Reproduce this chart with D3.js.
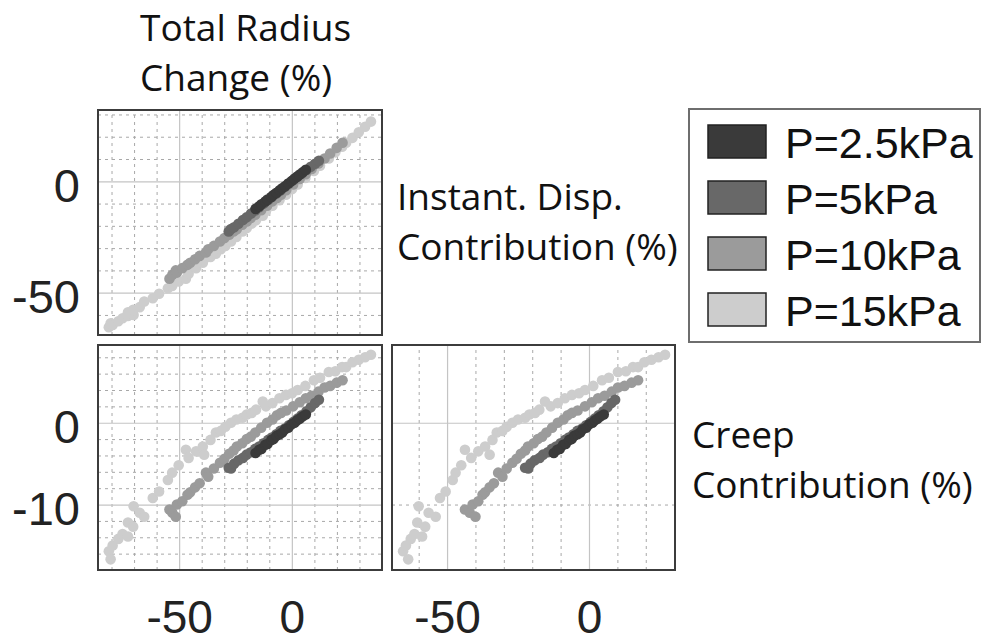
<!DOCTYPE html>
<html>
<head>
<meta charset="utf-8">
<script src="https://cdn.jsdelivr.net/npm/d3@7"></script>
<style>
  body { margin: 0; background: #fff; }
  svg { display: block; }
</style>
</head>
<body>
<div id="chart"></div>
<script>
// pressure groups and legend labels
var pressures = ["P=2.5kPa", "P=5kPa", "P=10kPa", "P=15kPa"];
var shades = ["#3a3a3a", "#686868", "#9b9b9b", "#cdcdcd"];

// tick labels
var xTickLabels = [-50, 0];
var yTickLabelsTop = [-50, 0];
var yTickLabelsBottom = [-10, 0];

// samples per pressure: instant disp., creep and total radius change (%)
var instant25 = [-12.4, -11.2, -10.3, -9.1, -8.2, -7.0, -6.1, -5.2, -4.0, -3.1, -2.2, -1.0, 0.1, 1.2, 2.1, 3.0, 4.1, 5.2];
var creep25   = [-3.7, -3.3, -3.2, -2.7, -2.6, -2.1, -2.0, -1.6, -1.4, -1.2, -0.8, -0.6, -0.2, 0.0, 0.3, 0.5, 0.8, 1.0];
var total25   = [-16.1, -14.5, -13.5, -11.8, -10.8, -9.1, -8.1, -6.8, -5.4, -4.3, -3.0, -1.6, -0.1, 1.2, 2.4, 3.5, 4.9, 6.2];

var instant5 = [-22.5, -21.4, -20.6, -19.1, -17.4, -16.2, -14.5, -13.1, -11.6, -10.0, -8.4, -7.1, -5.5, -4.1, -2.4, -1.0, 0.6, 2.0, 3.4, 5.1, 6.5, 7.9, 9.2];
var creep5   = [-5.5, -5.6, -5.0, -4.6, -4.3, -3.9, -3.6, -3.2, -2.9, -2.5, -2.1, -1.8, -1.4, -1.0, -0.7, -0.3, 0.1, 0.5, 0.9, 1.4, 1.9, 2.4, 2.8];
var total5   = [-28.0, -27.0, -25.6, -23.7, -21.7, -20.1, -18.1, -16.3, -14.5, -12.5, -10.5, -8.9, -6.9, -5.1, -3.1, -1.3, 0.7, 2.5, 4.3, 6.5, 8.4, 10.3, 12.0];

var instant10 = [-43.7, -42.0, -40.0, -41.0, -39.0, -37.5, -36.6, -35.0, -33.5, -32.0, -30.5, -29.0, -27.0, -25.5, -24.0, -22.5, -21.5, -19.5, -18.0, -16.5, -15.0, -13.0, -11.0, -9.0, -7.5, -6.0, -4.0, -1.4, 1.0, 3.2, 5.5, 8.0, 10.2, 12.5, 15.0, 17.3];
var creep10   = [-10.6, -11.0, -11.5, -10.0, -9.6, -8.8, -8.5, -7.9, -7.4, -6.1, -6.6, -5.6, -4.9, -4.4, -3.8, -3.4, -2.9, -2.5, -2.0, -1.7, -1.2, -0.6, 0.0, 0.4, 0.9, 1.2, 1.5, 2.0, 2.5, 3.0, 3.3, 3.8, 4.3, 4.5, 4.9, 5.2];
var total10   = [-54.3, -53.0, -51.5, -51.0, -48.6, -46.3, -45.1, -42.9, -40.9, -38.1, -37.1, -34.6, -31.9, -29.9, -27.8, -25.9, -24.4, -22.0, -20.0, -18.2, -16.2, -13.6, -11.0, -8.6, -6.6, -4.8, -2.5, 0.6, 3.5, 6.2, 8.8, 11.8, 14.5, 17.0, 19.9, 22.5];

var instant15 = [-65.5, -63.7, -64.5, -62.8, -61.5, -60.5, -58.8, -60.0, -57.7, -56.5, -54.0, -52.5, -50.5, -48.0, -47.0, -45.0, -43.7, -41.5, -39.0, -36.6, -35.0, -34.0, -32.5, -30.5, -29.0, -27.0, -25.0, -22.5, -21.0, -19.0, -17.5, -15.5, -13.5, -11.0, -8.5, -6.0, -3.5, -1.4, 1.5, 4.6, 7.0, 10.2, 13.0, 15.5, 17.3, 19.5, 22.0, 24.5, 26.8];
var creep15   = [-15.7, -16.7, -15.0, -14.2, -13.6, -12.2, -13.9, -10.2, -12.7, -11.0, -11.5, -9.2, -8.4, -7.0, -6.1, -5.2, -3.3, -4.3, -3.5, -2.9, -3.9, -2.1, -1.2, -1.0, -0.5, 0.0, 0.4, 0.6, 1.0, 1.2, 1.6, 2.6, 2.0, 2.4, 3.0, 3.4, 3.6, 4.0, 4.5, 5.2, 5.5, 6.2, 6.3, 6.8, 6.8, 7.4, 7.7, 8.0, 8.3];
var total15   = [-81.2, -80.4, -79.5, -77.0, -75.1, -72.7, -72.7, -70.2, -70.4, -67.5, -65.5, -61.7, -58.9, -55.0, -53.1, -50.2, -47.0, -45.8, -42.5, -39.5, -38.9, -36.1, -33.7, -31.5, -29.5, -27.0, -24.6, -21.9, -20.0, -17.8, -15.9, -12.9, -11.5, -8.6, -5.5, -2.6, 0.1, 2.6, 6.0, 9.8, 12.5, 16.4, 19.3, 22.3, 24.1, 26.9, 29.7, 32.5, 35.1];

var series = [
  {name: pressures[0], color: shades[0], instant: instant25, creep: creep25, total: total25},
  {name: pressures[1], color: shades[1], instant: instant5, creep: creep5, total: total5},
  {name: pressures[2], color: shades[2], instant: instant10, creep: creep10, total: total10},
  {name: pressures[3], color: shades[3], instant: instant15, creep: creep15, total: total15}
];

var tickFont = "'Liberation Sans', Arial, sans-serif";
var titleFont = "'Open Sans', Lato, sans-serif";
// plain hyphen for negatives, like the original figure
var plain = function(d) { return String(d); };

var svg = d3.select("#chart")
  .append("svg")
    .attr("width", 982)
    .attr("height", 644);

var notMajor = function(major) { return function(v) { return major.indexOf(v) < 0; }; };

// the three scatter panels
var panels = [
  {xKey: "total", yKey: "instant", left: 98, top: 110, w: 284, h: 225,
   xDomain: [-86, 40], yDomain: [-69, 32],
   xMajor: [-50, 0], yMajor: [-50, 0],
   xMinor: d3.range(-80, 40, 10), yMinor: d3.range(-60, 40, 10),
   xLabels: null, yLabels: yTickLabelsTop},
  {xKey: "total", yKey: "creep", left: 98, top: 345, w: 284, h: 225,
   xDomain: [-86, 40], yDomain: [-18, 9.5],
   xMajor: [-50, 0], yMajor: [-10, 0],
   xMinor: d3.range(-80, 40, 10), yMinor: d3.range(-16, 10, 2),
   xLabels: xTickLabels, yLabels: yTickLabelsBottom},
  {xKey: "instant", yKey: "creep", left: 392, top: 345, w: 283, h: 225,
   xDomain: [-69.4, 30.3], yDomain: [-18, 9.5],
   xMajor: [-50, 0], yMajor: [0],
   xMinor: d3.range(-60, 30, 10), yMinor: [-10],
   xLabels: xTickLabels, yLabels: null}
];

panels.forEach(function(p, pi) {
  var x = d3.scaleLinear().domain(p.xDomain).range([0, p.w]);
  var y = d3.scaleLinear().domain(p.yDomain).range([p.h, 0]);

  var g = svg.append("g")
    .attr("transform", "translate(" + p.left + "," + p.top + ")");

  g.append("clipPath").attr("id", "clip" + pi)
    .append("rect").attr("width", p.w).attr("height", p.h);

  // minor dashed grid
  g.append("g").attr("class", "grid minor")
    .attr("transform", "translate(0," + p.h + ")")
    .call(d3.axisBottom(x).tickValues(p.xMinor.filter(notMajor(p.xMajor))).tickSize(-p.h).tickFormat(""));
  g.append("g").attr("class", "grid minor")
    .call(d3.axisLeft(y).tickValues(p.yMinor.filter(notMajor(p.yMajor))).tickSize(-p.w).tickFormat(""));
  // major solid grid
  g.append("g").attr("class", "grid major")
    .attr("transform", "translate(0," + p.h + ")")
    .call(d3.axisBottom(x).tickValues(p.xMajor).tickSize(-p.h).tickFormat(""));
  g.append("g").attr("class", "grid major")
    .call(d3.axisLeft(y).tickValues(p.yMajor).tickSize(-p.w).tickFormat(""));

  g.selectAll(".grid .domain").remove();
  g.selectAll(".grid.minor line")
    .attr("stroke", "#a8a8a8").attr("stroke-width", 1).attr("stroke-dasharray", "3,4");
  g.selectAll(".grid.major line")
    .attr("stroke", "#c4c4c4").attr("stroke-width", 1.2);

  // points, lightest group at the back
  var pts = g.append("g").attr("clip-path", "url(#clip" + pi + ")");
  series.slice().reverse().forEach(function(s) {
    var data = s.total.map(function(d, i) { return {x: s[p.xKey][i], y: s[p.yKey][i]}; });
    pts.append("g")
      .attr("fill", s.color)
      .selectAll("circle")
      .data(data)
      .enter().append("circle")
        .attr("cx", function(d) { return x(d.x); })
        .attr("cy", function(d) { return y(d.y); })
        .attr("r", 5.3);
  });

  // frame
  g.append("rect")
    .attr("width", p.w).attr("height", p.h)
    .attr("fill", "none").attr("stroke", "#3c3c3c").attr("stroke-width", 2);

  // tick labels
  if (p.yLabels) {
    var ay = g.append("g")
      .call(d3.axisLeft(y).tickValues(p.yLabels).tickFormat(plain).tickSize(0).tickPadding(18));
    ay.select(".domain").remove();
    ay.selectAll("text")
      .attr("dy", "0.43em")
      .attr("font-family", tickFont).attr("font-size", 47).attr("fill", "#222");
  }
  if (p.xLabels) {
    var ax = g.append("g")
      .attr("transform", "translate(0," + p.h + ")")
      .call(d3.axisBottom(x).tickValues(p.xLabels).tickFormat(plain).tickSize(0).tickPadding(30));
    ax.select(".domain").remove();
    ax.selectAll("text")
      .attr("font-family", tickFont).attr("font-size", 46).attr("fill", "#222");
  }
});

// variable titles
var titles = [
  {lines: ["Total Radius", "Change (%)"], x: 140, y: 41},
  {lines: ["Instant. Disp.", "Contribution (%)"], x: 397, y: 210},
  {lines: ["Creep", "Contribution (%)"], x: 692, y: 448}
];
titles.forEach(function(t) {
  var txt = svg.append("text")
    .attr("x", t.x).attr("y", t.y)
    .attr("font-family", titleFont).attr("font-size", 37).attr("fill", "#111");
  t.lines.forEach(function(line, i) {
    txt.append("tspan").attr("x", t.x).attr("dy", i === 0 ? 0 : 50).text(line);
  });
});

// legend
var legend = svg.append("g").attr("transform", "translate(689,109)");
legend.append("rect")
  .attr("width", 291).attr("height", 233)
  .attr("fill", "#fff").attr("stroke", "#6e6e6e").attr("stroke-width", 2);
var rows = legend.selectAll(".row")
  .data(series)
  .enter().append("g")
    .attr("class", "row")
    .attr("transform", function(d, i) { return "translate(0," + (16 + i * 56) + ")"; });
rows.append("rect")
  .attr("x", 19).attr("width", 58).attr("height", 33)
  .attr("fill", function(d) { return d.color; })
  .attr("stroke", "#222").attr("stroke-width", 1.5);
rows.append("text")
  .attr("x", 96).attr("y", 33)
  .attr("font-family", tickFont).attr("font-size", 43).attr("fill", "#111")
  .text(function(d) { return d.name; });
</script>
</body>
</html>
